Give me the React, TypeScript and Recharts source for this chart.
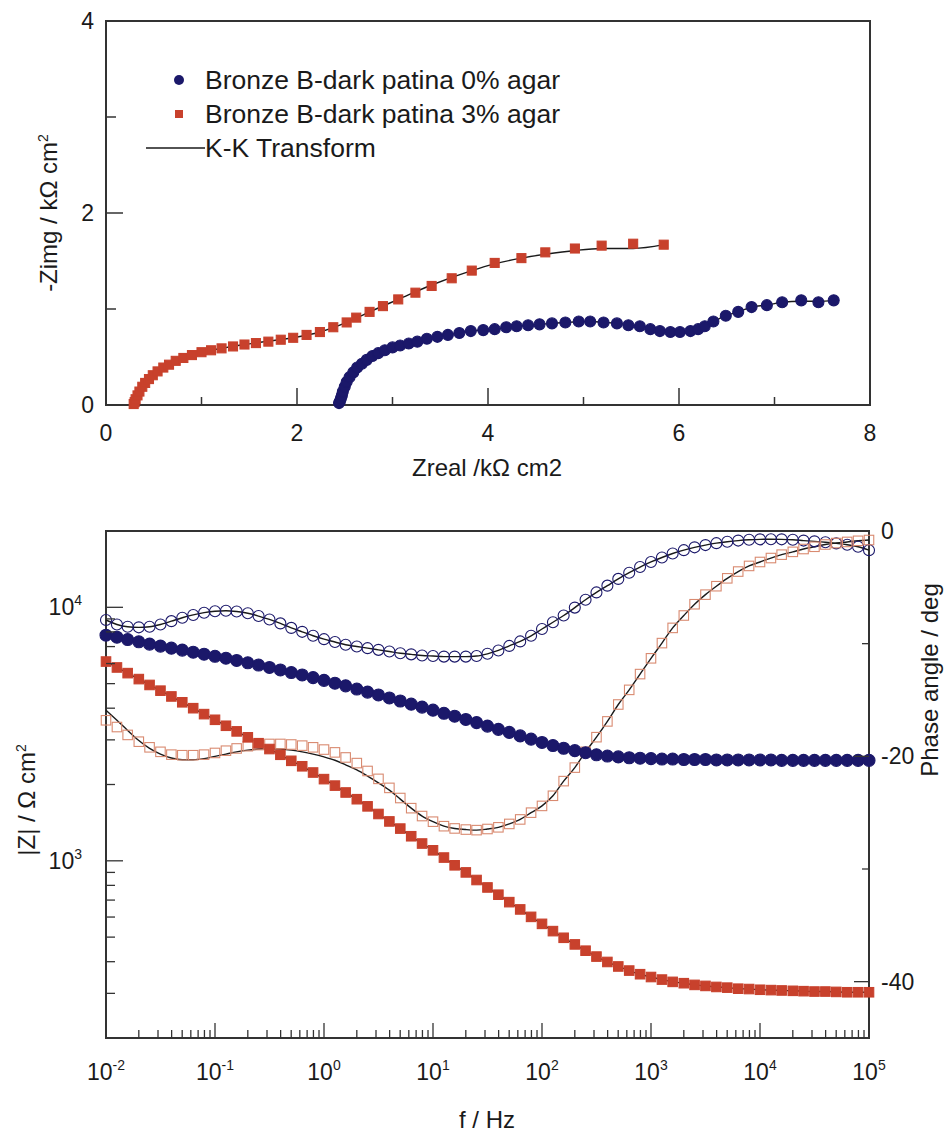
import React from "react";
import { ComposedChart, Line, XAxis, YAxis, ReferenceArea, Legend } from "recharts";

const FONT = '"Liberation Sans", Arial, Helvetica, sans-serif';
const NAVY = "#1b186a";
const RED = "#c8412c";
const RED_OPEN = "#d98a70";
const INK = "#1a1a1a";
const FRAME = "#333";

// Nyquist plot, kOhm cm2
const nyqRe0 = [2.44, 2.45, 2.46, 2.47, 2.48, 2.5, 2.52, 2.55, 2.59, 2.63, 2.68, 2.73, 2.79, 2.85, 2.92, 3.0, 3.08, 3.17, 3.26, 3.36, 3.47, 3.58, 3.7, 3.82, 3.95, 4.07, 4.19, 4.3, 4.42, 4.54, 4.67, 4.81, 4.95, 5.07, 5.21, 5.35, 5.47, 5.59, 5.7, 5.8, 5.91, 6.01, 6.12, 6.2, 6.27, 6.36, 6.49, 6.62, 6.76, 6.92, 7.08, 7.28, 7.46, 7.62];
const nyqIm0 = [0.02, 0.04, 0.07, 0.1, 0.14, 0.19, 0.24, 0.29, 0.34, 0.39, 0.43, 0.47, 0.51, 0.54, 0.57, 0.6, 0.62, 0.64, 0.66, 0.69, 0.71, 0.73, 0.75, 0.77, 0.78, 0.79, 0.81, 0.82, 0.83, 0.84, 0.85, 0.86, 0.87, 0.87, 0.86, 0.85, 0.83, 0.82, 0.79, 0.77, 0.76, 0.76, 0.77, 0.79, 0.82, 0.87, 0.93, 0.97, 1.02, 1.04, 1.07, 1.09, 1.07, 1.09];
const nyqRe3 = [0.29, 0.3, 0.31, 0.33, 0.35, 0.38, 0.41, 0.45, 0.49, 0.54, 0.6, 0.66, 0.73, 0.81, 0.9, 1.0, 1.1, 1.21, 1.33, 1.45, 1.57, 1.7, 1.83, 1.96, 2.1, 2.24, 2.38, 2.52, 2.62, 2.76, 2.9, 3.06, 3.24, 3.41, 3.62, 3.83, 4.07, 4.35, 4.6, 4.91, 5.19, 5.52, 5.84];
const nyqIm3 = [0.01, 0.03, 0.06, 0.1, 0.14, 0.19, 0.23, 0.27, 0.31, 0.35, 0.39, 0.42, 0.46, 0.49, 0.52, 0.55, 0.57, 0.59, 0.61, 0.63, 0.645, 0.66, 0.68, 0.7, 0.73, 0.76, 0.81, 0.86, 0.91, 0.97, 1.03, 1.1, 1.17, 1.24, 1.32, 1.4, 1.48, 1.53, 1.59, 1.63, 1.66, 1.68, 1.67];

// K-K transform curves on the Nyquist plot
const kkRe0 = [2.44, 2.48, 2.55, 2.63, 2.73, 2.85, 3.0, 3.17, 3.36, 3.58, 3.82, 4.07, 4.3, 4.54, 4.81, 5.07, 5.35, 5.59, 5.8, 6.01, 6.2, 6.36, 6.49, 6.62, 6.76, 6.92, 7.08, 7.28, 7.46, 7.62];
const kkIm0 = [0.0, 0.14, 0.29, 0.39, 0.47, 0.54, 0.6, 0.64, 0.69, 0.73, 0.77, 0.79, 0.82, 0.84, 0.86, 0.87, 0.85, 0.82, 0.77, 0.76, 0.79, 0.87, 0.93, 0.97, 1.02, 1.04, 1.07, 1.08, 1.08, 1.09];
const kkRe3 = [0.29, 0.33, 0.38, 0.45, 0.54, 0.66, 0.81, 1.0, 1.21, 1.45, 1.7, 1.96, 2.24, 2.52, 2.76, 3.06, 3.41, 3.83, 4.07, 4.35, 4.6, 4.91, 5.19, 5.52, 5.84];
const kkIm3 = [0.0, 0.1, 0.19, 0.27, 0.35, 0.42, 0.49, 0.55, 0.59, 0.63, 0.665, 0.7, 0.76, 0.86, 0.97, 1.1, 1.25, 1.4, 1.47, 1.53, 1.57, 1.61, 1.63, 1.63, 1.67];

// Bode plot
const freqs = [
  0.01, 0.0126, 0.0158, 0.02, 0.0251, 0.0316, 0.0398, 0.0501, 0.0631, 0.0794,
  0.1, 0.126, 0.158, 0.2, 0.251, 0.316, 0.398, 0.501, 0.631, 0.794,
  1, 1.26, 1.58, 2, 2.51, 3.16, 3.98, 5.01, 6.31, 7.94,
  10, 12.6, 15.8, 20, 25.1, 31.6, 39.8, 50.1, 63.1, 79.4,
  100, 126, 158, 200, 251, 316, 398, 501, 631, 794,
  1000, 1260, 1580, 2000, 2510, 3160, 3980, 5010, 6310, 7940,
  10000, 12600, 15800, 20000, 25100, 31600, 39800, 50100, 63100, 79400,
  100000,
];
const absZ0 = [
  7760, 7620, 7460, 7310, 7160, 7030, 6900, 6780, 6650, 6530,
  6410, 6300, 6170, 6040, 5920, 5790, 5660, 5530, 5410, 5280,
  5150, 5020, 4900, 4760, 4630, 4510, 4390, 4270, 4150, 4040,
  3930, 3820, 3720, 3610, 3510, 3400, 3300, 3210, 3110, 3020,
  2930, 2850, 2780, 2720, 2670, 2620, 2590, 2570, 2550, 2540,
  2530, 2520, 2520, 2510, 2510, 2510, 2500, 2500, 2500, 2500,
  2500, 2500, 2490, 2490, 2490, 2490, 2490, 2490, 2490, 2490,
  2490,
];
const absZ3 = [
  6110, 5790, 5500, 5210, 4940, 4690, 4450, 4220, 4000, 3790,
  3600, 3410, 3240, 3070, 2910, 2760, 2620, 2480, 2360, 2230,
  2100, 1980, 1860, 1750, 1640, 1530, 1430, 1340, 1250, 1170,
  1100, 1030, 960, 900, 840, 785, 735, 687, 643, 601,
  564, 528, 497, 468, 442, 419, 399, 383, 369, 357,
  348, 340, 333, 329, 324, 321, 318, 316, 313, 312,
  310, 309, 308, 307, 306, 305, 305, 304, 303, 303,
  303,
];
const phase0 = [
  -7.9, -8.3, -8.5, -8.55, -8.5, -8.3, -8.0, -7.7, -7.45, -7.25,
  -7.12, -7.08, -7.15, -7.3, -7.55, -7.85, -8.2, -8.6, -8.95, -9.3,
  -9.6, -9.85, -10.1, -10.25, -10.4, -10.55, -10.7, -10.85, -10.95, -11.05,
  -11.1, -11.15, -11.15, -11.15, -11.1, -10.9, -10.6, -10.2, -9.8, -9.3,
  -8.7, -8.1, -7.5, -6.8, -6.1, -5.45, -4.85, -4.25, -3.7, -3.2,
  -2.75, -2.35, -2.0, -1.7, -1.45, -1.25, -1.08, -0.95, -0.85, -0.78,
  -0.74, -0.73, -0.74, -0.78, -0.85, -0.92, -1.0, -1.1, -1.22, -1.4,
  -1.7,
];
const phase3 = [
  -16.8, -17.4, -18.1, -18.7, -19.2, -19.6, -19.85, -19.9, -19.9, -19.85,
  -19.7, -19.5, -19.3, -19.1, -19.0, -18.9, -18.9, -18.95, -19.05, -19.2,
  -19.4, -19.65, -20.1, -20.6, -21.3, -22.0, -22.8, -23.7, -24.6, -25.3,
  -25.8, -26.2, -26.4, -26.5, -26.55, -26.45, -26.3, -26.0, -25.6, -25.0,
  -24.4, -23.5, -22.2, -21.0, -19.6, -18.3, -16.9, -15.4, -14.1, -12.7,
  -11.3, -9.95, -8.6, -7.5, -6.5, -5.65, -4.9, -4.2, -3.6, -3.1,
  -2.75, -2.4, -2.1, -1.85, -1.6, -1.4, -1.2, -1.07, -0.97, -0.87,
  -0.8,
];
// K-K line for the 3% phase departs from the squares at low frequency
const kkPhase3 = [
  -15.9, -16.8, -17.7, -18.6, -19.3, -19.8, -20.15, -20.3, -20.3, -20.2,
  -20.0, -19.8, -19.6, -19.45, -19.35, -19.3, -19.35, -19.45, -19.6, -19.8,
  -20.05, -20.35, -20.75, -21.2, -21.75, -22.35, -23.0, -23.8, -24.6, -25.3,
  -25.8, -26.2, -26.4, -26.5, -26.55, -26.45, -26.3, -26.0, -25.6, -25.0,
  -24.4, -23.5, -22.2, -21.0, -19.6, -18.3, -16.9, -15.4, -14.1, -12.7,
  -11.3, -9.95, -8.6, -7.5, -6.5, -5.65, -4.9, -4.2, -3.6, -3.1,
  -2.75, -2.4, -2.1, -1.85, -1.6, -1.4, -1.2, -1.07, -0.97, -0.87,
  -0.8,
];

const nyqXTicks = [0, 1, 2, 3, 4, 5, 6, 7, 8];
const nyqYTicks = [0, 1, 2, 3, 4];
const phaseTicks = [0, -10, -20, -30, -40];
const decadesX = [-2, -1, 0, 1, 2, 3, 4];
const decadesZ = [2, 3, 4];
const mantissas = [1, 2, 3, 4, 5, 6, 7, 8, 9];

const freqTicks = [...decadesX.flatMap((d) => mantissas.map((m) => Number((m * 10 ** d).toPrecision(3)))), 100000];
const zTicks = decadesZ.flatMap((d) => mantissas.map((m) => m * 10 ** d)).filter((v) => v >= 200 && v <= 20000);

const rows = (xs: number[], ys: number[]) => xs.map((x, i) => ({ x, y: ys[i] }));

const circleDot = (fill: string, stroke: string, r: number) => (p: any) =>
  p.cx == null ? <g key={`e${p.index}`} /> : (
    <circle key={`c${p.index}`} cx={p.cx} cy={p.cy} r={r} fill={fill} stroke={stroke} strokeWidth={1.1} />
  );

const squareDot = (fill: string, stroke: string, s: number) => (p: any) =>
  p.cx == null ? <g key={`e${p.index}`} /> : (
    <rect key={`s${p.index}`} x={p.cx - s / 2} y={p.cy - s / 2} width={s} height={s} fill={fill} stroke={stroke} strokeWidth={1.1} />
  );

const isDecade = (v: number) => {
  const e = Math.round(Math.log10(v));
  return Math.abs(v - 10 ** e) < 1e-9 * v;
};

const NyqXTick = ({ x, y, payload }: any) => {
  const major = payload.value % 2 === 0;
  return (
    <g>
      <line x1={x} x2={x} y1={y} y2={y - (major ? 17 : 8)} stroke={FRAME} strokeWidth={1.5} />
      {major && (
        <text x={x} y={y + 36} textAnchor="middle" fontSize={23} fontFamily={FONT} fill={INK}>
          {payload.value}
        </text>
      )}
    </g>
  );
};

const NyqYTick = ({ x, y, payload }: any) => {
  const major = payload.value % 2 === 0;
  return (
    <g>
      <line x1={x} x2={x + (major ? 17 : 10)} y1={y} y2={y} stroke={FRAME} strokeWidth={1.5} />
      {major && (
        <text x={x - 12} y={y + 8} textAnchor="end" fontSize={23} fontFamily={FONT} fill={INK}>
          {payload.value}
        </text>
      )}
    </g>
  );
};

const FreqTick = ({ x, y, payload }: any) => {
  const major = isDecade(payload.value);
  const e = Math.round(Math.log10(payload.value));
  return (
    <g>
      <line x1={x} x2={x} y1={y} y2={y - (major ? 15 : 8)} stroke={FRAME} strokeWidth={1.3} />
      {major && (
        <text x={x} y={y + 42} textAnchor="middle" fontSize={23} fontFamily={FONT} fill={INK}>
          10<tspan dy={-10} fontSize={14}>{e}</tspan>
        </text>
      )}
    </g>
  );
};

const ZTick = ({ x, y, payload }: any) => {
  const major = isDecade(payload.value);
  const e = Math.round(Math.log10(payload.value));
  return (
    <g>
      <line x1={x} x2={x + (major ? 17 : 9)} y1={y} y2={y} stroke={FRAME} strokeWidth={1.3} />
      {major && (
        <text x={x - 24} y={y + 8} textAnchor="end" fontSize={23} fontFamily={FONT} fill={INK}>
          10<tspan dy={-10} fontSize={14}>{e}</tspan>
        </text>
      )}
    </g>
  );
};

const PhaseTick = ({ x, y, payload }: any) => {
  const major = payload.value % 20 === 0;
  return (
    <g>
      <line x1={x} x2={x - (major ? 15 : 7)} y1={y} y2={y} stroke={FRAME} strokeWidth={1.3} />
      {major && (
        <text x={x + 12} y={y + 8} textAnchor="start" fontSize={23} fontFamily={FONT} fill={INK}>
          {payload.value}
        </text>
      )}
    </g>
  );
};

const NyquistLegend = () => (
  <div style={{ fontFamily: FONT, fontSize: 26.5, color: INK, lineHeight: "34px" }}>
    <div style={{ display: "flex", alignItems: "center", height: 34 }}>
      <svg width={65} height={34}><circle cx={39} cy={17} r={5} fill={NAVY} /></svg>
      <span>Bronze B-dark patina 0% agar</span>
    </div>
    <div style={{ display: "flex", alignItems: "center", height: 34 }}>
      <svg width={65} height={34}><rect x={35} y={13} width={8} height={8} fill={RED} /></svg>
      <span>Bronze B-dark patina 3% agar</span>
    </div>
    <div style={{ display: "flex", alignItems: "center", height: 34 }}>
      <svg width={65} height={34}><line x1={6} x2={65} y1={17} y2={17} stroke={INK} strokeWidth={1.5} /></svg>
      <span>K-K Transform</span>
    </div>
  </div>
);

const title = (left: number, top: number, rotate: boolean): React.CSSProperties => ({
  position: "absolute",
  left,
  top,
  transform: `translate(-50%, -50%)${rotate ? " rotate(-90deg)" : ""}`,
  whiteSpace: "nowrap",
  fontFamily: FONT,
  fontSize: 24,
  color: INK,
  lineHeight: "28px",
});

export default function App() {
  return (
    <div style={{ position: "absolute", left: 0, top: 0, width: 952, height: 1137, background: "#fff" }}>
      {/* Nyquist */}
      <div style={{ position: "absolute", left: 0, top: 0 }}>
        <ComposedChart width={952} height={480} margin={{ top: 21, right: 82, bottom: 35, left: 46 }}>
          <XAxis dataKey="x" type="number" domain={[0, 8]} ticks={nyqXTicks} interval={0} height={40}
            axisLine={false} tickLine={false} tickSize={0} tickMargin={0} tick={(p: any) => <NyqXTick {...p} />} />
          <YAxis type="number" domain={[0, 4]} ticks={nyqYTicks} interval={0} width={60}
            axisLine={false} tickLine={false} tickSize={0} tickMargin={0} tick={(p: any) => <NyqYTick {...p} />} />
          <ReferenceArea x1={0} x2={8} y1={0} y2={4} fill="none" stroke={FRAME} strokeWidth={2} ifOverflow="visible" />
          <Line data={rows(nyqRe0, nyqIm0)} dataKey="y" stroke="none" isAnimationActive={false} activeDot={false}
            dot={circleDot(NAVY, NAVY, 5.5)} />
          <Line data={rows(nyqRe3, nyqIm3)} dataKey="y" stroke="none" isAnimationActive={false} activeDot={false}
            dot={squareDot(RED, RED, 9)} />
          <Line data={rows(kkRe0, kkIm0)} dataKey="y" type="monotone" stroke={INK} strokeWidth={1.4} dot={false}
            activeDot={false} isAnimationActive={false} />
          <Line data={rows(kkRe3, kkIm3)} dataKey="y" type="monotone" stroke={INK} strokeWidth={1.4} dot={false}
            activeDot={false} isAnimationActive={false} />
          <Legend layout="vertical" align="center" verticalAlign="middle" content={() => <NyquistLegend />}
            wrapperStyle={{ left: 140, top: 63, width: 480, height: 102 }} />
        </ComposedChart>
      </div>
      <div style={title(46, 213, true)}>-Zimg / kΩ cm<sup style={{ fontSize: 14 }}>2</sup></div>
      <div style={title(487, 468, false)}>Zreal /kΩ cm2</div>

      {/* Bode */}
      <div style={{ position: "absolute", left: 0, top: 480 }}>
        <ComposedChart width={952} height={657} margin={{ top: 51, right: 23, bottom: 59, left: 46 }}>
          <XAxis dataKey="x" type="number" scale="log" domain={[0.01, 100000]} ticks={freqTicks} interval={0}
            height={40} axisLine={false} tickLine={false} tickSize={0} tickMargin={0}
            tick={(p: any) => <FreqTick {...p} />} />
          <YAxis yAxisId="z" type="number" scale="log" domain={[200, 20000]} ticks={zTicks} interval={0} width={60}
            axisLine={false} tickLine={false} tickSize={0} tickMargin={0} tick={(p: any) => <ZTick {...p} />} />
          <YAxis yAxisId="p" orientation="right" type="number" domain={[-45, 0]} ticks={phaseTicks} interval={0}
            width={60} axisLine={false} tickLine={false} tickSize={0} tickMargin={0}
            tick={(p: any) => <PhaseTick {...p} />} />
          <ReferenceArea yAxisId="z" x1={0.01} x2={100000} y1={200} y2={20000} fill="none" stroke={FRAME}
            strokeWidth={2} ifOverflow="visible" />
          <Line yAxisId="p" data={rows(freqs, phase0)} dataKey="y" stroke="none" isAnimationActive={false}
            activeDot={false} dot={circleDot("none", NAVY, 5.5)} />
          <Line yAxisId="p" data={rows(freqs, phase3)} dataKey="y" stroke="none" isAnimationActive={false}
            activeDot={false} dot={squareDot("none", RED_OPEN, 9.5)} />
          <Line yAxisId="z" data={rows(freqs, absZ0)} dataKey="y" stroke="none" isAnimationActive={false}
            activeDot={false} dot={circleDot(NAVY, NAVY, 6)} />
          <Line yAxisId="z" data={rows(freqs, absZ3)} dataKey="y" stroke="none" isAnimationActive={false}
            activeDot={false} dot={squareDot(RED, RED, 9.5)} />
          <Line yAxisId="p" data={rows(freqs, phase0)} dataKey="y" type="monotone" stroke={INK} strokeWidth={1.4}
            dot={false} activeDot={false} isAnimationActive={false} />
          <Line yAxisId="p" data={rows(freqs, kkPhase3)} dataKey="y" type="monotone" stroke={INK} strokeWidth={1.4}
            dot={false} activeDot={false} isAnimationActive={false} />
          <Line yAxisId="z" data={rows(freqs, absZ0)} dataKey="y" type="monotone" stroke={INK} strokeWidth={1.4}
            dot={false} activeDot={false} isAnimationActive={false} />
          <Line yAxisId="z" data={rows(freqs, absZ3)} dataKey="y" type="monotone" stroke={INK} strokeWidth={1.4}
            dot={false} activeDot={false} isAnimationActive={false} />
        </ComposedChart>
      </div>
      <div style={title(24, 800, true)}>|Z| / Ω cm<sup style={{ fontSize: 14 }}>2</sup></div>
      <div style={title(930, 680, true)}>Phase angle / deg</div>
      <div style={title(487, 1120, false)}>f / Hz</div>
    </div>
  );
}
